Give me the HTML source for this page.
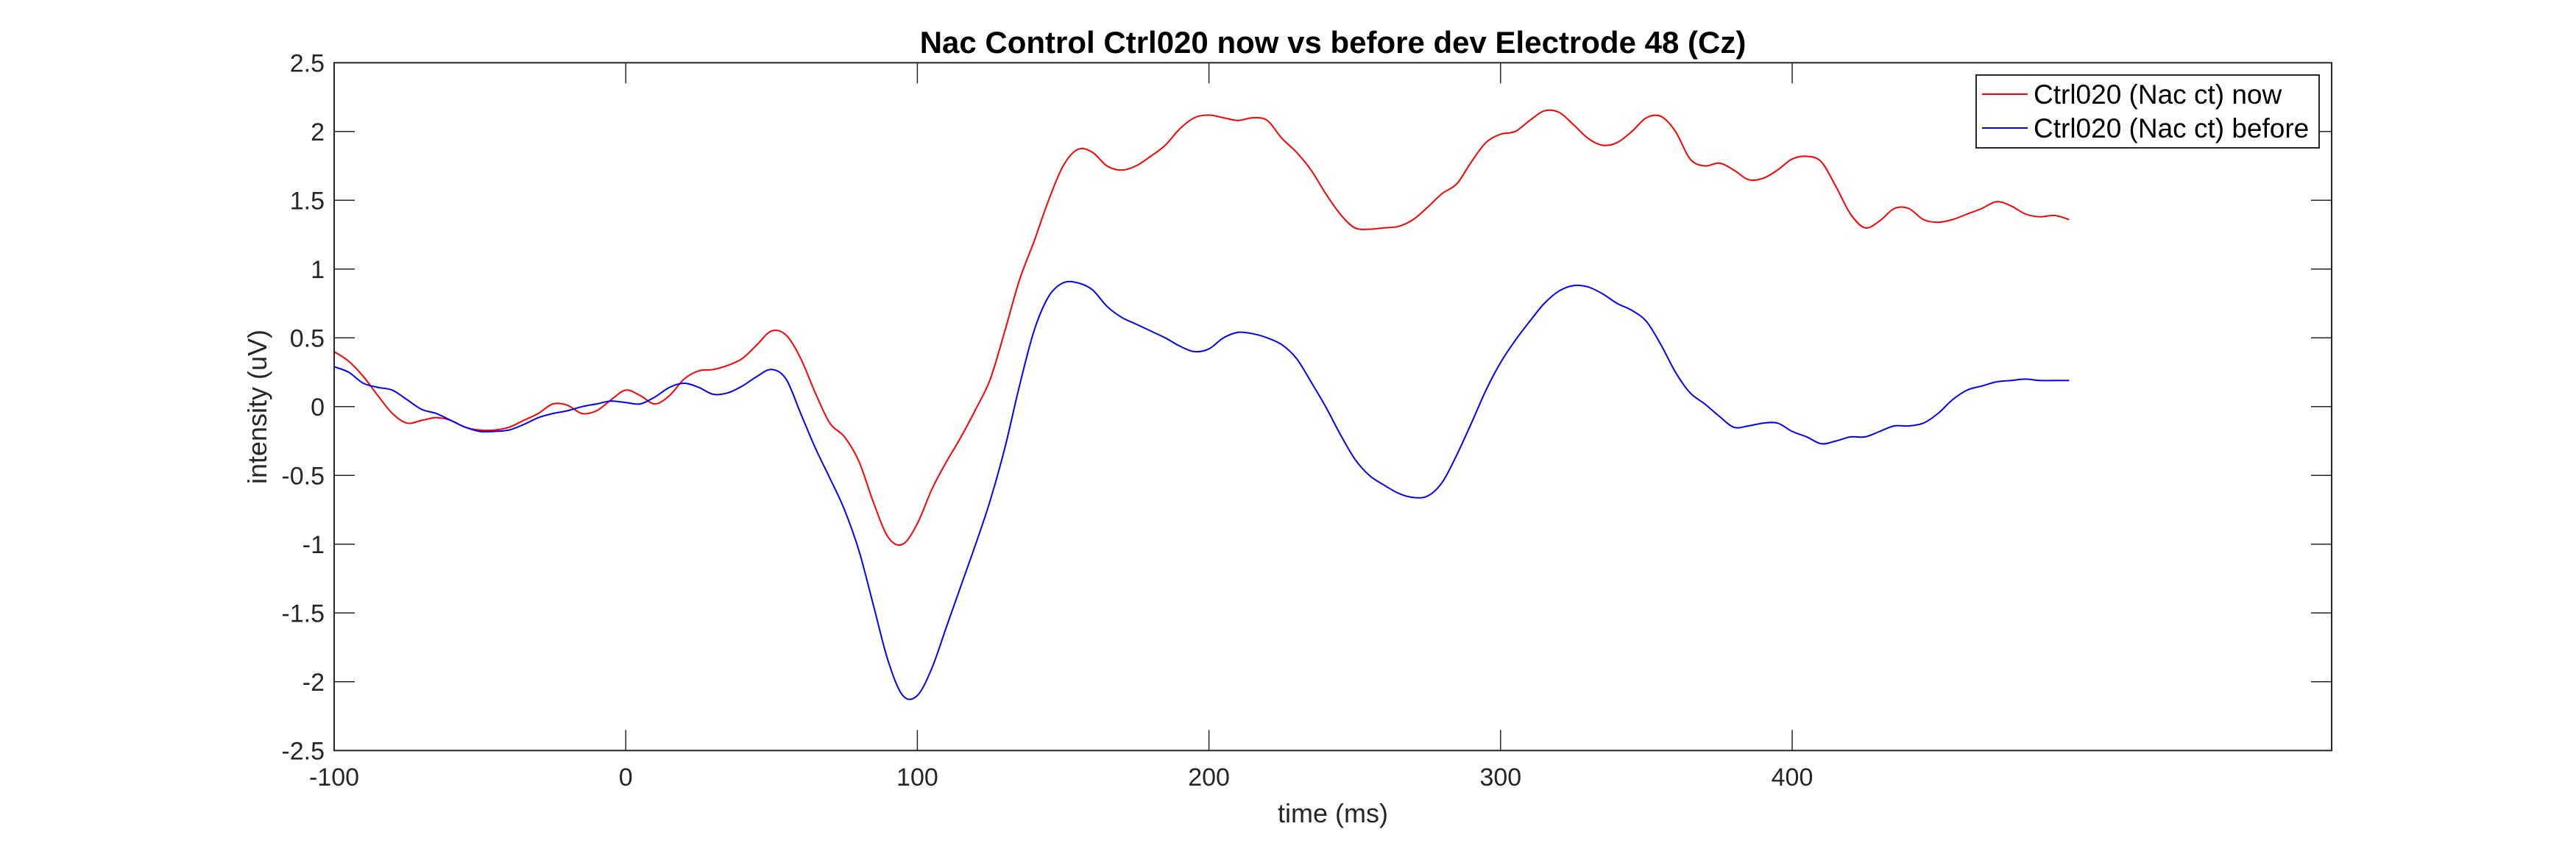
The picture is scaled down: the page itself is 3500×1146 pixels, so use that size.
<!DOCTYPE html>
<html><head><meta charset="utf-8"><style>
html,body{margin:0;padding:0;background:#fff;}
svg{display:block;font-family:"Liberation Sans",Arial,sans-serif;}
</style></head><body>
<svg id="chart" width="3500" height="1146" viewBox="0 0 3500 1146">
<rect width="3500" height="1146" fill="#fff"/>
<text x="1811" y="72" text-anchor="middle" font-size="42" font-weight="bold" fill="#000">Nac Control Ctrl020 now vs before dev Electrode 48 (Cz)</text>
<g id="ticks"></g>
<g id="series"></g>
<rect x="454" y="85.3" width="2714" height="935" fill="none" stroke="#262626" stroke-width="2"/>
<text x="1811" y="1118" text-anchor="middle" font-size="36" fill="#262626">time (ms)</text>
<text x="0" y="0" transform="translate(362,553) rotate(-90)" text-anchor="middle" font-size="36" fill="#262626">intensity (uV)</text>
<g>
<rect x="2685" y="102" width="466" height="99" fill="#fff" stroke="#262626" stroke-width="2"/>
<line x1="2693" y1="128" x2="2755" y2="128" stroke="#ff0000" stroke-width="2"/>
<text x="2763" y="141" font-size="37" fill="#000">Ctrl020 (Nac ct) now</text>
<line x1="2693" y1="174" x2="2755" y2="174" stroke="#0000ff" stroke-width="2"/>
<text x="2763" y="187" font-size="37" fill="#000">Ctrl020 (Nac ct) before</text>
</g>
</svg>
<script>
const times = [-100,-95,-90,-85,-80,-75,-70,-65,-60,-55,-50,-45,-40,-35,-30,-25,-20,-15,-10,-5,0,5,10,15,20,25,30,35,40,45,50,55,60,65,70,75,80,85,90,95,100,105,110,115,120,125,130,135,140,145,150,155,160,165,170,175,180,185,190,195,200,205,210,215,220,225,230,235,240,245,250,255,260,265,270,275,280,285,290,295,300,305,310,315,320,325,330,335,340,345,350,355,360,365,370,375,380,385,390,395,400,405,410,415,420,425,430,435,440,445,450,455,460,465,470,475,480,485,490,495];
const nowValues = [0.40,0.33,0.22,0.08,-0.05,-0.12,-0.10,-0.08,-0.10,-0.15,-0.17,-0.17,-0.15,-0.10,-0.05,0.02,0.01,-0.05,-0.03,0.05,0.12,0.08,0.02,0.08,0.20,0.26,0.27,0.30,0.35,0.45,0.55,0.52,0.35,0.10,-0.12,-0.22,-0.40,-0.70,-0.95,-1.00,-0.85,-0.60,-0.40,-0.22,-0.02,0.20,0.55,0.92,1.20,1.50,1.75,1.87,1.85,1.75,1.72,1.75,1.82,1.90,2.02,2.10,2.12,2.10,2.08,2.10,2.08,1.95,1.85,1.72,1.55,1.40,1.30,1.29,1.30,1.31,1.36,1.45,1.55,1.62,1.78,1.92,1.98,2.00,2.08,2.15,2.14,2.05,1.95,1.90,1.92,2.00,2.10,2.11,2.00,1.80,1.75,1.77,1.72,1.65,1.66,1.72,1.80,1.82,1.78,1.60,1.40,1.30,1.35,1.44,1.44,1.36,1.34,1.36,1.40,1.44,1.49,1.46,1.40,1.38,1.39,1.36];
const beforeValues = [0.29,0.25,0.17,0.14,0.12,0.05,-0.02,-0.05,-0.10,-0.15,-0.18,-0.18,-0.17,-0.13,-0.08,-0.05,-0.03,0.00,0.02,0.04,0.03,0.02,0.07,0.14,0.17,0.14,0.09,0.10,0.15,0.22,0.27,0.20,-0.05,-0.30,-0.52,-0.75,-1.05,-1.45,-1.85,-2.10,-2.10,-1.90,-1.60,-1.30,-1.00,-0.68,-0.30,0.15,0.55,0.80,0.90,0.90,0.85,0.73,0.65,0.60,0.55,0.50,0.44,0.40,0.42,0.50,0.54,0.53,0.50,0.45,0.35,0.18,0.00,-0.20,-0.38,-0.50,-0.57,-0.63,-0.66,-0.65,-0.55,-0.35,-0.12,0.12,0.32,0.48,0.62,0.75,0.84,0.88,0.87,0.82,0.75,0.70,0.62,0.45,0.25,0.10,0.02,-0.07,-0.15,-0.14,-0.12,-0.12,-0.18,-0.22,-0.27,-0.25,-0.22,-0.22,-0.18,-0.14,-0.14,-0.12,-0.05,0.05,0.12,0.15,0.18,0.19,0.20,0.19,0.19,0.19];
const xTicks = [-100,0,100,200,300,400];
const yTicks = [-2.5,-2,-1.5,-1,-0.5,0,0.5,1,1.5,2,2.5];
const yTickLabels = ["-2.5","-2","-1.5","-1","-0.5","0","0.5","1","1.5","2","2.5"];

const NS="http://www.w3.org/2000/svg";
const X0=454,X1=3168,Y0=1020.3,Y1=85.3,XMIN=-100,XMAX=585,YMIN=-2.5,YMAX=2.5;
function xs(v){return X0+(v-XMIN)/(XMAX-XMIN)*(X1-X0);}
function ys(v){return Y0-(v-YMIN)/(YMAX-YMIN)*(Y0-Y1);}
const tg=document.getElementById('ticks');
function mk(tag,attrs){const e=document.createElementNS(NS,tag);for(const k in attrs)e.setAttribute(k,attrs[k]);return e;}
xTicks.forEach(t=>{
  const x=xs(t);
  const a=mk('line',{x1:x,y1:Y0,x2:x,y2:Y0-28,stroke:'#262626','stroke-width':1.5});
  
  
  tg.appendChild(a);
  const b=mk('line',{x1:x,y1:Y1,x2:x,y2:Y1+28,stroke:'#262626','stroke-width':1.5});
  
  
  tg.appendChild(b);
  const l=mk('text',{x:x,y:1068,'text-anchor':'middle','font-size':34,fill:'#262626'});
  
  
  l.textContent=String(t);tg.appendChild(l);
});
yTicks.forEach((t,i)=>{
  const y=ys(t);
  const a=mk('line',{x1:X0,y1:y,x2:X0+28,y2:y,stroke:'#262626','stroke-width':1.5});
  
  
  tg.appendChild(a);
  const b=mk('line',{x1:X1,y1:y,x2:X1-28,y2:y,stroke:'#262626','stroke-width':1.5});
  
  
  tg.appendChild(b);
  const l=mk('text',{x:441,y:y+12,'text-anchor':'end','font-size':34,fill:'#262626'});
  
  
  l.textContent=yTickLabels[i];tg.appendChild(l);
});
function pathFor(vals){
  const n=Math.min(times.length,vals.length);
  const p=[];for(let i=0;i<n;i++)p.push([xs(times[i]),ys(vals[i])]);
  let d='M'+p[0][0].toFixed(1)+','+p[0][1].toFixed(1);
  for(let i=0;i<p.length-1;i++){
    const p0=p[i-1]||p[i],p1=p[i],p2=p[i+1],p3=p[i+2]||p[i+1];
    const c1=[p1[0]+(p2[0]-p0[0])/6,p1[1]+(p2[1]-p0[1])/6];
    const c2=[p2[0]-(p3[0]-p1[0])/6,p2[1]-(p3[1]-p1[1])/6];
    d+=' C'+c1[0].toFixed(1)+','+c1[1].toFixed(1)+' '+c2[0].toFixed(1)+','+c2[1].toFixed(1)+' '+p2[0].toFixed(1)+','+p2[1].toFixed(1);
  }
  return d;
}
const sg=document.getElementById('series');
const pn=mk('path',{d:pathFor(nowValues),fill:'none',stroke:'#ff0000','stroke-width':2});


sg.appendChild(pn);
const pb=mk('path',{d:pathFor(beforeValues),fill:'none',stroke:'#0000ff','stroke-width':2});


sg.appendChild(pb);
</script>
</body></html>
